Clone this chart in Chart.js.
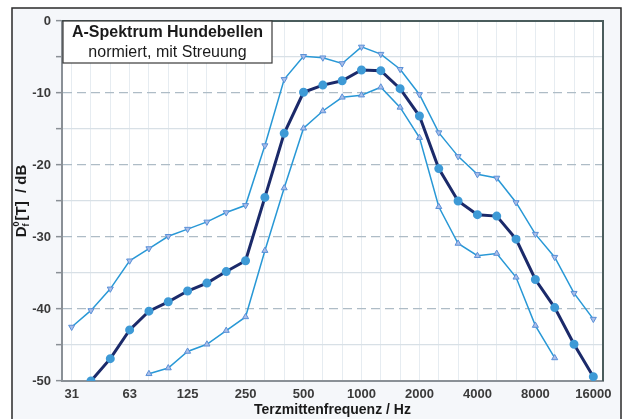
<!DOCTYPE html>
<html>
<head>
<meta charset="utf-8">
<script src="https://cdn.jsdelivr.net/npm/chart.js@4/dist/chart.umd.min.js"></script>
<style>
  html, body { margin: 0; padding: 0; background: #fff; }
  canvas { display: block; }
</style>
</head>
<body>
<canvas id="spektrum" width="627" height="419"></canvas>
<script>
// Terzbänder (Hz)
const bands = ['31.5', '40', '50', '63', '80', '100', '125', '160', '200', '250', '315', '400', '500', '630',
  '800', '1000', '1250', '1600', '2000', '2500', '3150', '4000', '5000', '6300', '8000', '10000', '12500', '16000'];
// Beschriftung nur an den Oktaven
const octaveLabels = ['31', '63', '125', '250', '500', '1000', '2000', '4000', '8000', '16000'];

const upper = [-42.5, -40.2, -37.2, -33.3, -31.6, -29.9, -28.9, -27.9, -26.6, -25.6, -17.3, -8.1, -4.9, -5.1,
  -5.9, -3.6, -4.6, -6.7, -10.2, -15.5, -18.8, -21.3, -21.8, -25.2, -29.6, -32.8, -37.8, -41.4];
const mean = [null, -50, -46.9, -42.9, -40.3, -39.0, -37.5, -36.4, -34.8, -33.3, -24.5, -15.6, -9.9, -8.9,
  -8.3, -6.8, -6.9, -9.4, -13.2, -20.5, -25.0, -26.9, -27.1, -30.3, -35.9, -39.8, -44.9, -49.4];
const lower = [null, null, null, null, -49.0, -48.2, -45.9, -44.9, -43.0, -41.1, -31.9, -23.2, -14.9, -12.5,
  -10.6, -10.3, -9.2, -12.0, -16.2, -25.8, -30.9, -32.6, -32.3, -35.6, -42.3, -46.8, null, null];

const FONT = "'Liberation Sans', Arial, sans-serif";

const framePlugin = {
  id: 'frame',
  beforeDraw(chart) {
    const ctx = chart.ctx, a = chart.chartArea;
    ctx.save();
    ctx.fillStyle = '#ffffff';
    ctx.fillRect(0, 0, chart.width, chart.height);
    ctx.fillStyle = '#f5f7fa';
    ctx.fillRect(12, 8, 609, 430);
    ctx.strokeStyle = '#2a2a2a';
    ctx.lineWidth = 1.5;
    ctx.strokeRect(12, 8, 609, 430);
    ctx.fillStyle = '#ffffff';
    ctx.fillRect(a.left, a.top, a.right - a.left, a.bottom - a.top);
    ctx.restore();
  },
  afterDraw(chart) {
    const ctx = chart.ctx, a = chart.chartArea;
    ctx.save();
    // obere und rechte Rahmenlinie
    ctx.strokeStyle = '#4a5c5c';
    ctx.lineWidth = 2;
    ctx.beginPath();
    ctx.moveTo(a.left, a.top);
    ctx.lineTo(a.right, a.top);
    ctx.lineTo(a.right, a.bottom);
    ctx.stroke();

    // Titelkasten
    const bx = a.left + 1, by = a.top, bw = 209, bh = 42;
    ctx.fillStyle = '#ffffff';
    ctx.fillRect(bx, by, bw, bh);
    ctx.strokeStyle = '#3a3a3a';
    ctx.lineWidth = 1.2;
    ctx.strokeRect(bx, by, bw, bh);
    ctx.fillStyle = '#1a1a1a';
    ctx.textAlign = 'center';
    ctx.textBaseline = 'middle';
    ctx.font = 'bold 16px ' + FONT;
    ctx.fillText('A-Spektrum Hundebellen', bx + bw / 2, by + 12);
    ctx.font = '16px ' + FONT;
    ctx.fillText('normiert, mit Streuung', bx + bw / 2, by + 32);

    // y-Achsentitel mit Hoch- und Tiefstellung
    const cy = (a.top + a.bottom) / 2;
    ctx.translate(22, cy);
    ctx.rotate(-Math.PI / 2);
    ctx.textAlign = 'left';
    ctx.textBaseline = 'middle';
    ctx.font = 'bold 15px ' + FONT;
    const wD = ctx.measureText('D').width;
    const rest = '[T]  / dB';
    const wR = ctx.measureText(rest).width;
    ctx.font = 'bold 9px ' + FONT;
    const wS = Math.max(ctx.measureText('0').width, ctx.measureText('f').width) + 1;
    let x = -(wD + wS + wR) / 2;
    ctx.font = 'bold 15px ' + FONT;
    ctx.fillText('D', x, 0);
    x += wD;
    ctx.font = 'bold 9px ' + FONT;
    ctx.fillText('0', x, -5);
    ctx.fillText('f', x, 5);
    x += wS;
    ctx.font = 'bold 15px ' + FONT;
    ctx.fillText(rest, x, 0);
    ctx.restore();
  }
};

new Chart(document.getElementById('spektrum'), {
  type: 'line',
  data: {
    labels: bands,
    datasets: [
      {
        label: 'Maximum',
        data: upper,
        borderColor: '#2898d6',
        borderWidth: 1.5,
        pointStyle: 'triangle',
        rotation: 180,
        pointRadius: 3.5,
        pointBackgroundColor: '#a9bde8',
        pointBorderColor: '#5a90d8',
        pointBorderWidth: 1,
        tension: 0
      },
      {
        label: 'Mittelwert',
        data: mean,
        borderColor: '#1b2a6a',
        borderWidth: 3,
        pointStyle: 'circle',
        pointRadius: 3,
        pointBackgroundColor: '#3e9ad6',
        pointBorderColor: '#3e9ad6',
        tension: 0
      },
      {
        label: 'Minimum',
        data: lower,
        borderColor: '#2898d6',
        borderWidth: 1.5,
        pointStyle: 'triangle',
        pointRadius: 3.5,
        pointBackgroundColor: '#a9bde8',
        pointBorderColor: '#5a90d8',
        pointBorderWidth: 1,
        tension: 0
      }
    ]
  },
  options: {
    responsive: false,
    animation: false,
    spanGaps: false,
    layout: { padding: { left: 12, right: 24, top: 21, bottom: 0 } },
    plugins: {
      legend: { display: false },
      tooltip: { enabled: false }
    },
    scales: {
      x: {
        offset: true,
        grid: { color: '#e6ecf1', lineWidth: 1, drawTicks: false },
        border: { color: '#8a9096', width: 2 },
        ticks: {
          autoSkip: false,
          maxRotation: 0,
          padding: 6,
          color: '#3a3a3a',
          font: { family: FONT, size: 13, weight: 'bold' },
          callback: (v, i) => (i % 3 === 0 ? octaveLabels[i / 3] : '')
        },
        title: {
          display: true,
          text: 'Terzmittenfrequenz / Hz',
          color: '#1a1a1a',
          font: { family: FONT, size: 14, weight: 'bold' },
          padding: { top: 0, bottom: 0 }
        },
        afterFit: s => { s.height = 38; }
      },
      y: {
        min: -50,
        max: 0,
        ticks: {
          stepSize: 5,
          padding: 5,
          color: '#3a3a3a',
          font: { family: FONT, size: 13, weight: 'bold' },
          callback: v => (v % 10 === 0 ? String(v) : '')
        },
        grid: {
          color: ctx => (ctx.tick && ctx.tick.value % 10 === 0 ? '#aebcc6' : '#d8e0e6'),
          lineWidth: 1.3,
          tickLength: 6,
          tickColor: '#8a9096',
          tickWidth: 1.5
        },
        border: {
          color: '#8a9096',
          width: 2,
          dash: ctx => (ctx.tick && ctx.tick.value % 10 === 0 ? [9, 5] : [])
        },
        afterFit: s => { s.width = 50; }
      }
    }
  },
  plugins: [framePlugin]
});
</script>
</body>
</html>
